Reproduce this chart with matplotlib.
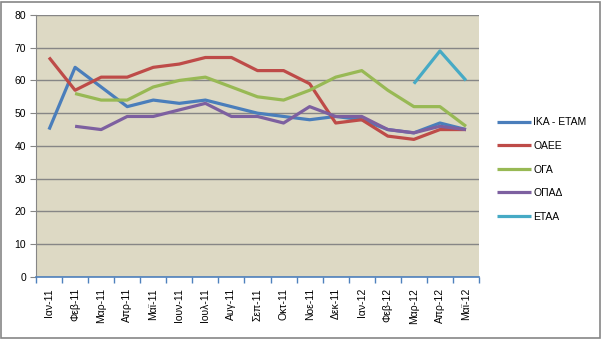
import numpy as np
import matplotlib.pyplot as plt
from matplotlib.patches import Rectangle

# Μήνες (κατηγορίες άξονα x)
months = ['Ιαν-11', 'Φεβ-11', 'Μαρ-11', 'Απρ-11', 'Μαϊ-11', 'Ιουν-11', 'Ιουλ-11',
          'Αυγ-11', 'Σεπ-11', 'Οκτ-11', 'Νοε-11', 'Δεκ-11', 'Ιαν-12', 'Φεβ-12',
          'Μαρ-12', 'Απρ-12', 'Μαϊ-12']

nan = np.nan
ika = [45, 64, 58, 52, 54, 53, 54, 52, 50, 49, 48, 49, 48, 45, 44, 47, 45]
oaee = [67, 57, 61, 61, 64, 65, 67, 67, 63, 63, 59, 47, 48, 43, 42, 45, 45]
oga = [nan, 56, 54, 54, 58, 60, 61, 58, 55, 54, 57, 61, 63, 57, 52, 52, 46]
opad = [nan, 46, 45, 49, 49, 51, 53, 49, 49, 47, 52, 49, 49, 45, 44, 46, 45]
etaa = [nan, nan, nan, nan, nan, nan, nan, nan, nan, nan, nan, nan, nan, nan, 59, 69, 60]

series = [('ΙΚΑ - ΕΤΑΜ', ika, '#4A7EBB'),
          ('ΟΑΕΕ', oaee, '#BE4B48'),
          ('ΟΓΑ', oga, '#98B954'),
          ('ΟΠΑΔ', opad, '#7D60A0'),
          ('ΕΤΑΑ', etaa, '#46AAC5')]

plt.rcParams['font.family'] = ['Liberation Sans', 'DejaVu Sans']

fig = plt.figure(figsize=(6.03, 3.39), dpi=100)
ax = fig.add_axes([0.0597, 0.183, 0.7347, 0.773])
fig.patches.append(Rectangle((0.002, 0.004), 0.993, 0.99, transform=fig.transFigure,
                             fill=False, edgecolor='#868686', linewidth=1.2))

ax.set_facecolor('#DDD9C4')
x = np.arange(len(months))
for name, vals, col in series:
    ax.plot(x, vals, color=col, linewidth=2.3, label=name, solid_capstyle='butt')

# Άξονες
ax.set_xlim(-0.5, len(months) - 0.5)
ax.set_ylim(0, 80)
ax.set_yticks(np.arange(0, 81, 10))
ax.yaxis.grid(True, color='#868686', linewidth=1)
ax.set_axisbelow(True)
ax.set_xticks(x)
ax.set_xticklabels(months, rotation=90, fontsize=7.5)
ax.set_xticks(np.arange(-0.5, len(months)), minor=True)
ax.tick_params(axis='x', which='major', length=0, pad=8)
ax.tick_params(axis='x', which='minor', length=4, color='#4F81BD', width=1)
ax.tick_params(axis='y', labelsize=7.5, length=4, color='#868686', pad=3)
for s in ['top', 'right']:
    ax.spines[s].set_visible(False)
ax.spines['left'].set_color('#868686')
ax.spines['bottom'].set_color('#4F81BD')
ax.spines['bottom'].set_linewidth(1.2)

ax.legend(loc='center left', bbox_to_anchor=(1.02, 0.41), frameon=False,
          fontsize=7.5, handlelength=3.2, handletextpad=0.25, labelspacing=1.3)

fig.savefig('out.png', dpi=100)
